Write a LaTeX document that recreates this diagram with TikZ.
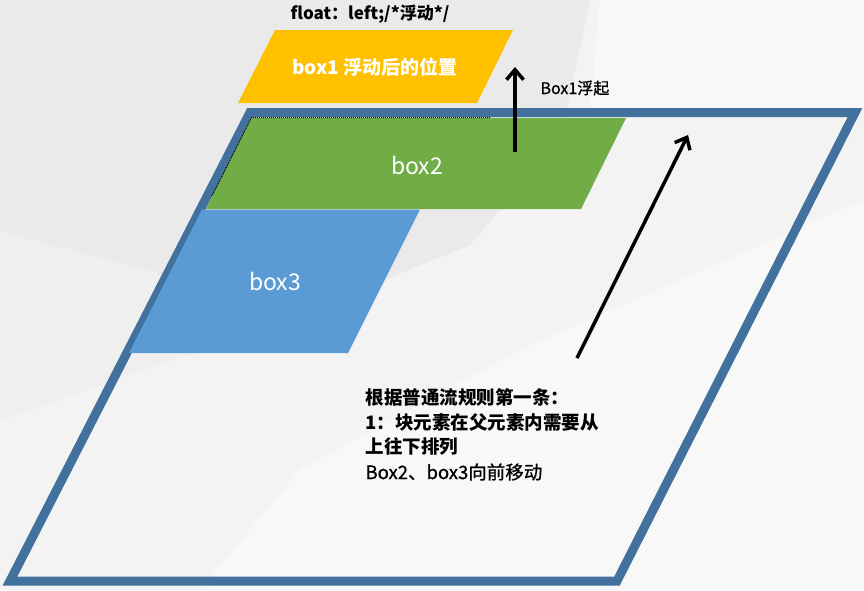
\documentclass[tikz,border=0pt]{standalone}
\usepackage{fontspec}
\newfontfamily\cjk{Noto Sans CJK SC}
\newfontfamily\cjkmed[FakeBold=0.8]{Noto Sans CJK SC}
\usetikzlibrary{arrows.meta}
\definecolor{frameblue}{HTML}{41719C}
\definecolor{boxyellow}{HTML}{FFC000}
\definecolor{boxgreen}{HTML}{70AD47}
\definecolor{boxblue}{HTML}{5B9BD5}
\definecolor{bgbase}{HTML}{F3F3F4}
\definecolor{bggray}{HTML}{EAEAEB}
\definecolor{bgmid}{HTML}{EFEFF0}
\definecolor{bglight}{HTML}{F8F8F9}
\tikzset{
  arrowline/.style={line width=3.5pt,-{Straight Barb[length=10pt,width=17pt,line width=3.5pt]}},
  boxtext/.style={text=white,font=\cjk\fontsize{23}{26}\selectfont},
  notetext/.style={text=black,anchor=west,font=\cjk\bfseries\fontsize{18.5}{22}\selectfont}
}
\begin{document}
\begin{tikzpicture}[x=1pt,y=-1pt]
\useasboundingbox (0,0) rectangle (864,590);
% background
\fill[bgbase] (0,0) rectangle (864,590);
\fill[bggray] (0,0) -- (590,0) -- (560,140) -- (470,245) -- (260,330) -- (150,270) -- (0,232) -- cycle;
\fill[bgmid] (0,232) -- (150,270) -- (260,330) -- (0,420) -- cycle;
\fill[bglight] (520,350) -- (864,200) -- (864,590) -- (200,590) -- (300,470) -- cycle;
\fill[bglight] (600,0) -- (864,0) -- (864,110) -- (590,110) -- cycle;
% outer frame
\draw[frameblue,line width=9pt,line join=miter] (250,112.5) -- (855,112.5) -- (617,581) -- (10,581) -- cycle;
% box1
\fill[boxyellow] (275,30) -- (513,30) -- (477,103) -- (238,103) -- cycle;
\node[text=white,font=\cjk\bfseries\fontsize{19}{22}\selectfont] (b1) at (375,67) {box1 浮动后的位置};
\node[text=black,font=\cjk\bfseries\fontsize{17}{20}\selectfont] (fl) at (370,14) {float：left;/*浮动*/};
% box2
\fill[boxgreen] (251,118) -- (626,118) -- (581,209) -- (206,209) -- cycle;
\draw[black,densely dotted,line width=1pt] (490,117.5) -- (251.5,117.5) -- (212,196);
\node[boxtext] (b2) at (417,165) {box2};
% box3
\fill[boxblue] (202,209.5) -- (420,209.5) -- (348,353) -- (129,353) -- cycle;
\node[boxtext] (b3) at (275,281) {box3};
% arrows
\coordinate (a1s) at (515,152);
\coordinate (a1e) at (515,67);
\draw[arrowline] (a1s) -- (a1e);
\node[text=black,font=\cjkmed\fontsize{16}{18}\selectfont,anchor=west] (lb) at (537,88) {Box1浮起};
\coordinate (a2s) at (577,358);
\coordinate (a2e) at (688,135);
\draw[arrowline] (a2s) -- (a2e);
% note text
\node[notetext] (n1) at (362,397) {根据普通流规则第一条：};
\node[notetext] (n2) at (362,422) {1：块元素在父元素内需要从};
\node[notetext] (n3) at (362,447) {上往下排列};
\node[notetext,font=\cjkmed\fontsize{18.5}{22}\selectfont] (n4) at (362,472) {Box2、box3向前移动};
\end{tikzpicture}
\end{document}
